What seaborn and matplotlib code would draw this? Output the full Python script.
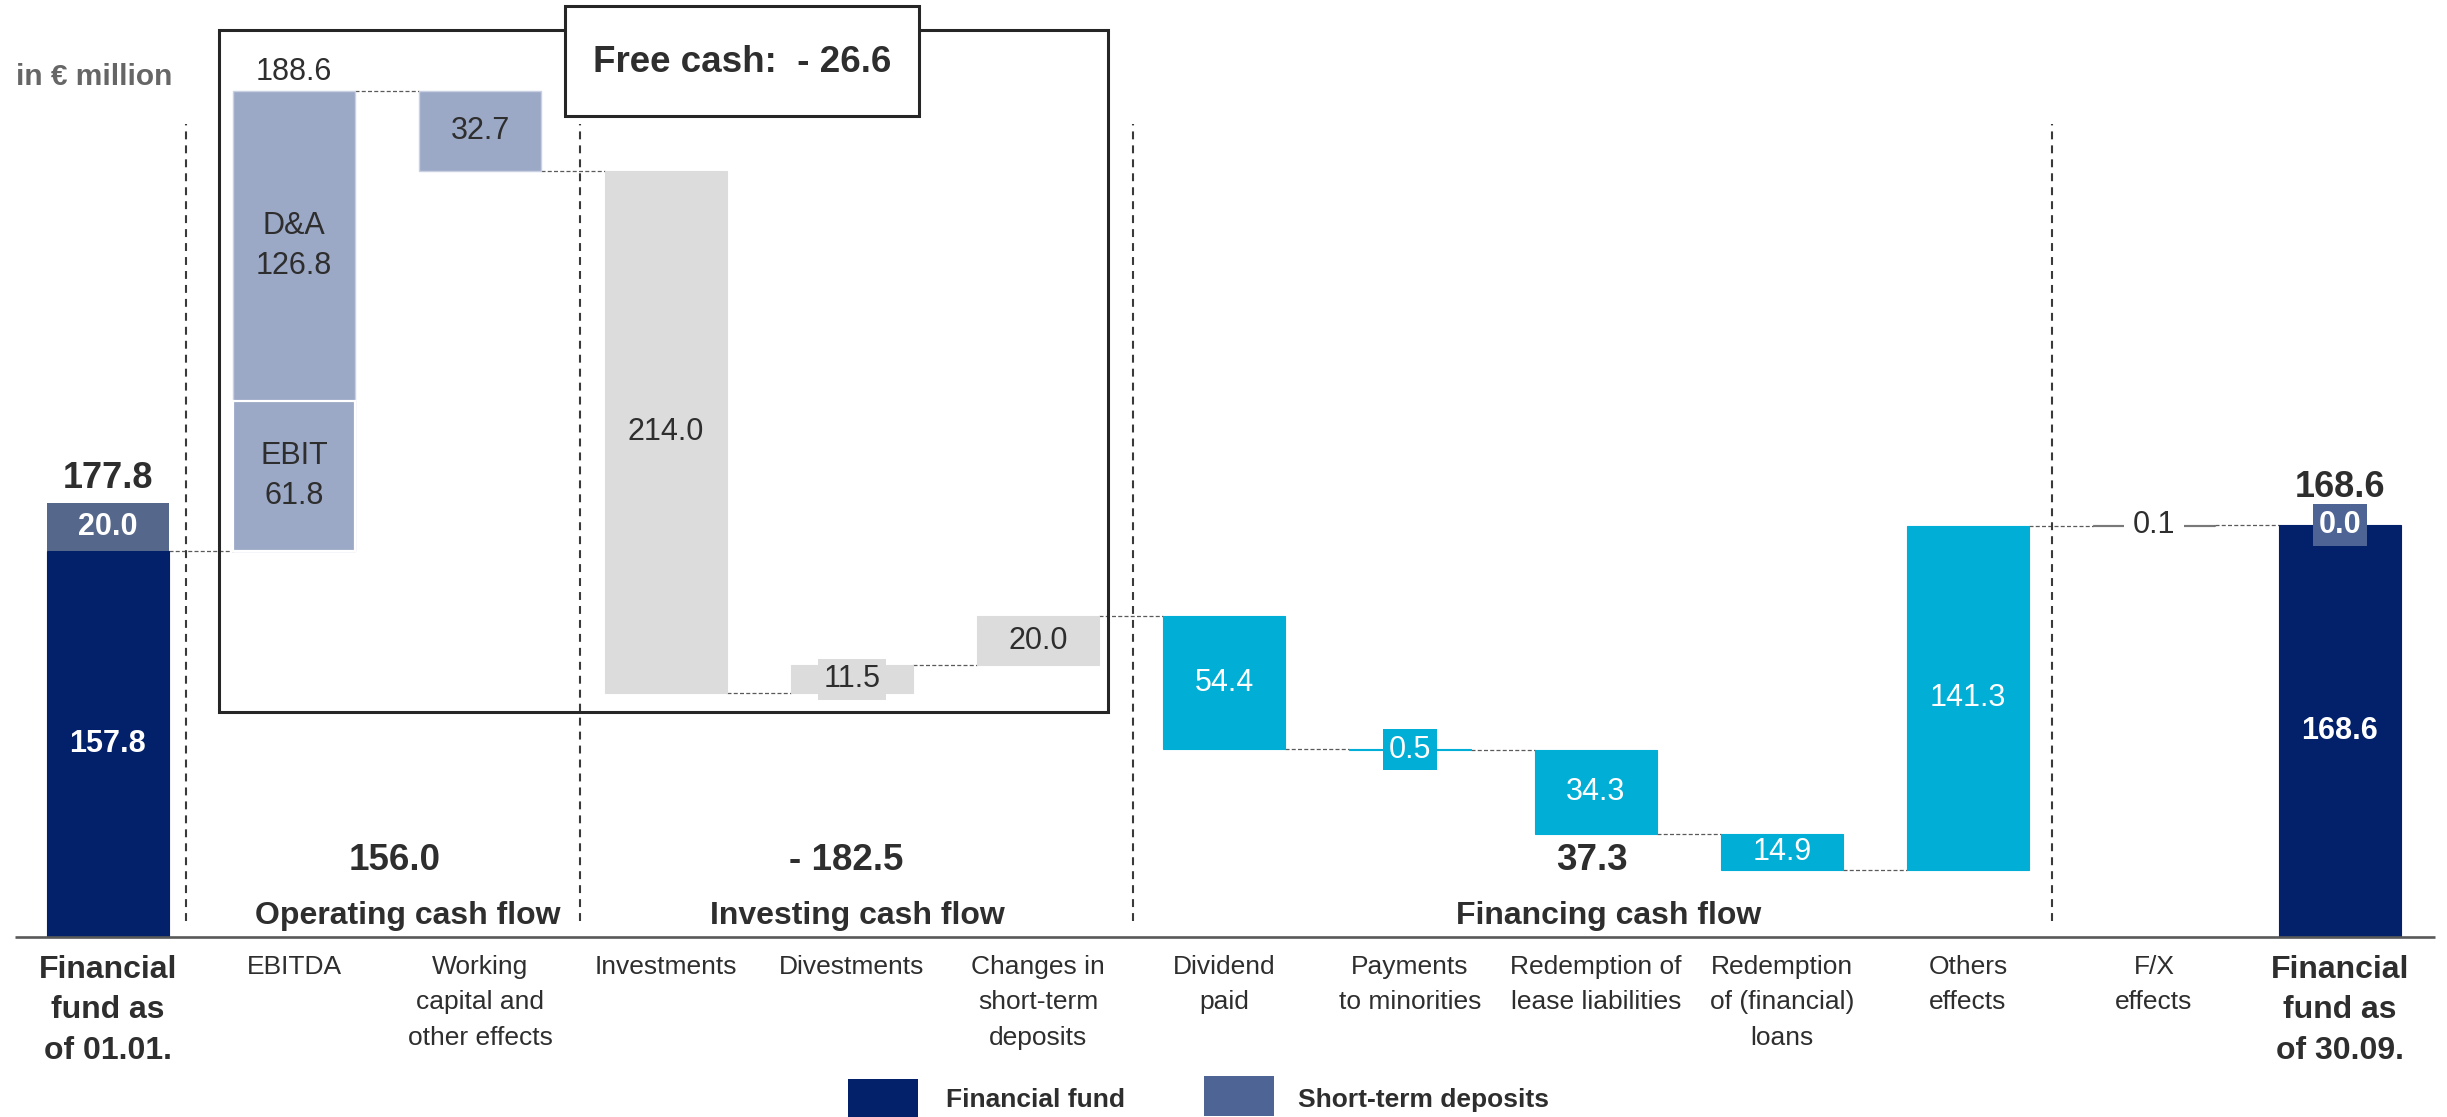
import numpy as np
import pandas as pd
import matplotlib
matplotlib.use("Agg")
import matplotlib.pyplot as plt
from matplotlib.patches import Rectangle
import seaborn as sns

# ---------------------------------------------------------------- data
categories = [
    "Financial\nfund as\nof 01.01.",
    "EBITDA",
    "Working\ncapital and\nother effects",
    "Investments",
    "Divestments",
    "Changes in\nshort-term\ndeposits",
    "Dividend\npaid",
    "Payments\nto minorities",
    "Redemption of\nlease liabilities",
    "Redemption\nof (financial)\nloans",
    "Others\neffects",
    "F/X\neffects",
    "Financial\nfund as\nof 30.09.",
]
groups = ["fund", "operating", "operating", "investing", "investing", "investing",
          "financing", "financing", "financing", "financing", "financing", "fx", "fund"]

opening_fund = 157.8
opening_deposits = 20.0
opening_total = 177.8
ebit = 61.8
depreciation = 126.8
ebitda = 188.6
flow_values = [-32.7, -214.0, 11.5, 20.0, -54.4, -0.5, -34.3, -14.9, 141.3, 0.1]
closing_fund = 168.6
closing_deposits = 0.0
closing_total = 168.6

section_names = ["Operating cash flow", "Investing cash flow", "Financing cash flow"]
section_totals = [156.0, -182.5, 37.3]
free_cash = -26.6

# ---------------------------------------------------------------- style
sns.set_theme(style="white")
plt.rcParams["font.family"] = ["Liberation Sans", "DejaVu Sans"]

palette = {
    "fund": "#03216A",
    "deposits": "#4D6495",
    "operating": "#9BA8C6",
    "investing": "#DCDCDC",
    "financing": "#00AED6",
    "fx": "#555555",
}
TXT = "#2E2E2E"

W, H = 2447, 1117
fig = plt.figure(figsize=(W / 100, H / 100), dpi=100)
ax = fig.add_axes([0, 0, 1, 1])

# pixel <-> data helpers for layout of annotations
PX_X0, PX_STEP = 108.0, 186.0
PX_Y0, PX_UNIT = 936.5, 2.44


def X(px):
    return (px - PX_X0) / PX_STEP


def Y(px):
    return (PX_Y0 - px) / PX_UNIT


# ---------------------------------------------------------------- waterfall geometry
steps = [ebitda] + flow_values
bottoms = [0.0]
heights = [opening_fund]
levels = [opening_fund]
level = opening_fund
for s in steps:
    new = level + s
    bottoms.append(min(level, new))
    heights.append(abs(s))
    level = new
    levels.append(level)
bottoms.append(0.0)
heights.append(closing_fund)
levels.append(closing_fund)

df = pd.DataFrame({"category": categories, "height": heights, "bottom": bottoms,
                   "group": groups})
BAR_W = 0.66

sns.barplot(data=df, x="category", y="height", order=categories,
            bottom=df["bottom"].to_numpy(), width=BAR_W, errorbar=None,
            color=palette["fund"], linewidth=0, ax=ax, zorder=2)
for patch, g in zip(ax.patches, groups):
    patch.set_facecolor(palette[g])
    if g == "operating":
        patch.set_edgecolor("#C9D0E1")
        patch.set_linewidth(1.0)
    elif g == "fx":
        patch.set_edgecolor(palette[g])
        patch.set_linewidth(0.9)
        patch.set_linestyle((0, (0.8, 0.8)))
    else:
        patch.set_edgecolor(palette[g])
        patch.set_linewidth(0.8)

# stacked parts: short-term deposits on the fund bars, EBIT inside EBITDA
stack = pd.DataFrame({
    "category": [categories[0], categories[1], categories[-1]],
    "height": [opening_deposits, ebit, closing_deposits],
    "bottom": [opening_fund, opening_fund, closing_fund],
})
n_before = len(ax.patches)
sns.barplot(data=stack, x="category", y="height", order=categories,
            bottom=stack["bottom"].to_numpy(), width=BAR_W, errorbar=None,
            color=palette["deposits"], linewidth=0, ax=ax, zorder=3)
extra = ax.patches[n_before:]
extra[1].set_facecolor(palette["operating"])
extra[1].set_edgecolor("white")
extra[1].set_linewidth(1.6)

# ---------------------------------------------------------------- connectors
for i in range(len(categories) - 1):
    y = levels[i]
    ax.plot([i + BAR_W / 2, i + 1 - BAR_W / 2], [y, y], color="#5A5A5A",
            lw=0.9, linestyle=(0, (3.2, 1.8)), zorder=1)

# ---------------------------------------------------------------- section separators
for xs in [0.42, 2.54, 5.51, 10.45]:
    ax.plot([xs, xs], [Y(921), Y(124)], color="#3A3A3A", lw=1.5,
            linestyle=(0, (3.8, 2.9)), zorder=1)

# baseline
ax.plot([X(15), X(2435)], [0, 0], color="#595959", lw=1.9, zorder=4,
        solid_capstyle="butt")

# free-cash frame
ax.add_patch(Rectangle((X(219), Y(712)), X(1108) - X(219), Y(30) - Y(712),
                       fill=False, edgecolor="#262626", lw=2.2, zorder=5))
ax.add_patch(Rectangle((X(565), Y(116)), X(919) - X(565), Y(6) - Y(116),
                       facecolor="white", edgecolor="#262626", lw=2.2, zorder=6))
ax.text((X(565) + X(919)) / 2, Y(62), f"Free cash:  - {abs(free_cash):.1f}",
        ha="center", va="center", fontsize=26.5, fontweight="bold", color=TXT,
        zorder=7)

# ---------------------------------------------------------------- value labels
def fmt(v):
    return f"{abs(v):.1f}"


VAL_FS = 22
# opening bar
ax.text(0, opening_fund / 2, fmt(opening_fund), ha="center", va="center",
        fontsize=VAL_FS, fontweight="bold", color="white", zorder=8)
ax.text(0, opening_fund + opening_deposits / 2, fmt(opening_deposits), ha="center",
        va="center", fontsize=VAL_FS, fontweight="bold", color="white", zorder=8)
ax.text(0, opening_total + 6.0, fmt(opening_total), ha="center", va="baseline",
        fontsize=26, fontweight="bold", color=TXT, zorder=8)

# EBITDA split
ax.text(1, levels[1] + 4.7, fmt(ebitda), ha="center", va="baseline",
        fontsize=VAL_FS, color=TXT, zorder=8)
ax.text(1, opening_fund + ebit + depreciation / 2, f"D&A\n{fmt(depreciation)}",
        ha="center", va="center", fontsize=VAL_FS, color=TXT, linespacing=1.45,
        zorder=8)
ax.text(1, opening_fund + ebit / 2, f"EBIT\n{fmt(ebit)}", ha="center", va="center",
        fontsize=VAL_FS, color=TXT, linespacing=1.45, zorder=8)

# flow bars
for k, v in enumerate(flow_values):
    i = k + 2
    g = groups[i]
    mid = bottoms[i] + heights[i] / 2
    if g == "fx":
        ax.text(i, levels[i], fmt(v), ha="center", va="center", fontsize=VAL_FS,
                color=TXT, zorder=8,
                bbox=dict(boxstyle="square,pad=0.3", fc="white", ec="none"))
        continue
    color = "white" if g == "financing" else TXT
    box = None
    if heights[i] * PX_UNIT < 36:
        box = dict(boxstyle="square,pad=0.18", fc=palette[g], ec="none")
    ax.text(i, mid, fmt(v), ha="center", va="center", fontsize=VAL_FS,
            color=color, zorder=8, bbox=box)

# closing bar
n = len(categories) - 1
ax.text(n, closing_fund / 2, fmt(closing_fund), ha="center", va="center",
        fontsize=VAL_FS, fontweight="bold", color="white", zorder=8)
ax.text(n, closing_fund + closing_deposits, fmt(closing_deposits), ha="center",
        va="center", fontsize=VAL_FS, fontweight="bold", color="white", zorder=8,
        bbox=dict(boxstyle="square,pad=0.2", fc=palette["deposits"], ec="none"))
ax.text(n, closing_total + 11.6, fmt(closing_total), ha="center", va="baseline",
        fontsize=26, fontweight="bold", color=TXT, zorder=8)

# section totals
total_x = [1.54, 3.97, 7.98]
name_x = [1.61, 4.03, 8.07]
for tx, nx, name, tot in zip(total_x, name_x, section_names, section_totals):
    label = f"- {abs(tot):.1f}" if tot < 0 else f"{tot:.1f}"
    ax.text(tx, Y(860), label, ha="center", va="center", fontsize=26.5,
            fontweight="bold", color=TXT, zorder=8)
    ax.text(nx, Y(916), name, ha="center", va="center", fontsize=23,
            fontweight="bold", color=TXT, zorder=8)

# category labels under the baseline
for i, cat in enumerate(categories):
    bold = groups[i] == "fund"
    ax.text(i, Y(955), cat, ha="center", va="top",
            fontsize=23 if bold else 19, fontweight="bold" if bold else "normal",
            color=TXT, linespacing=1.6 if not bold else 1.45, zorder=8)

# unit note
ax.text(X(16), Y(77), "in € million", ha="left", va="center", fontsize=21.5,
        fontweight="bold", color="#666666", zorder=8)

# legend
ax.add_patch(Rectangle((X(848), Y(1117)), X(918) - X(848), Y(1079) - Y(1117),
                       facecolor=palette["fund"], edgecolor="none", zorder=8))
ax.text(X(946), Y(1100), "Financial fund", ha="left", va="center", fontsize=19,
        fontweight="bold", color=TXT, zorder=8)
ax.add_patch(Rectangle((X(1204), Y(1116)), X(1274) - X(1204), Y(1076) - Y(1116),
                       facecolor=palette["deposits"], edgecolor="none", zorder=8))
ax.text(X(1298), Y(1100), "Short-term deposits", ha="left", va="center",
        fontsize=19, fontweight="bold", color=TXT, zorder=8)

ax.set_xlim(X(0), X(W))
ax.set_ylim(Y(H), Y(0))
ax.axis("off")

fig.savefig("out.png", dpi=100, facecolor="white")
